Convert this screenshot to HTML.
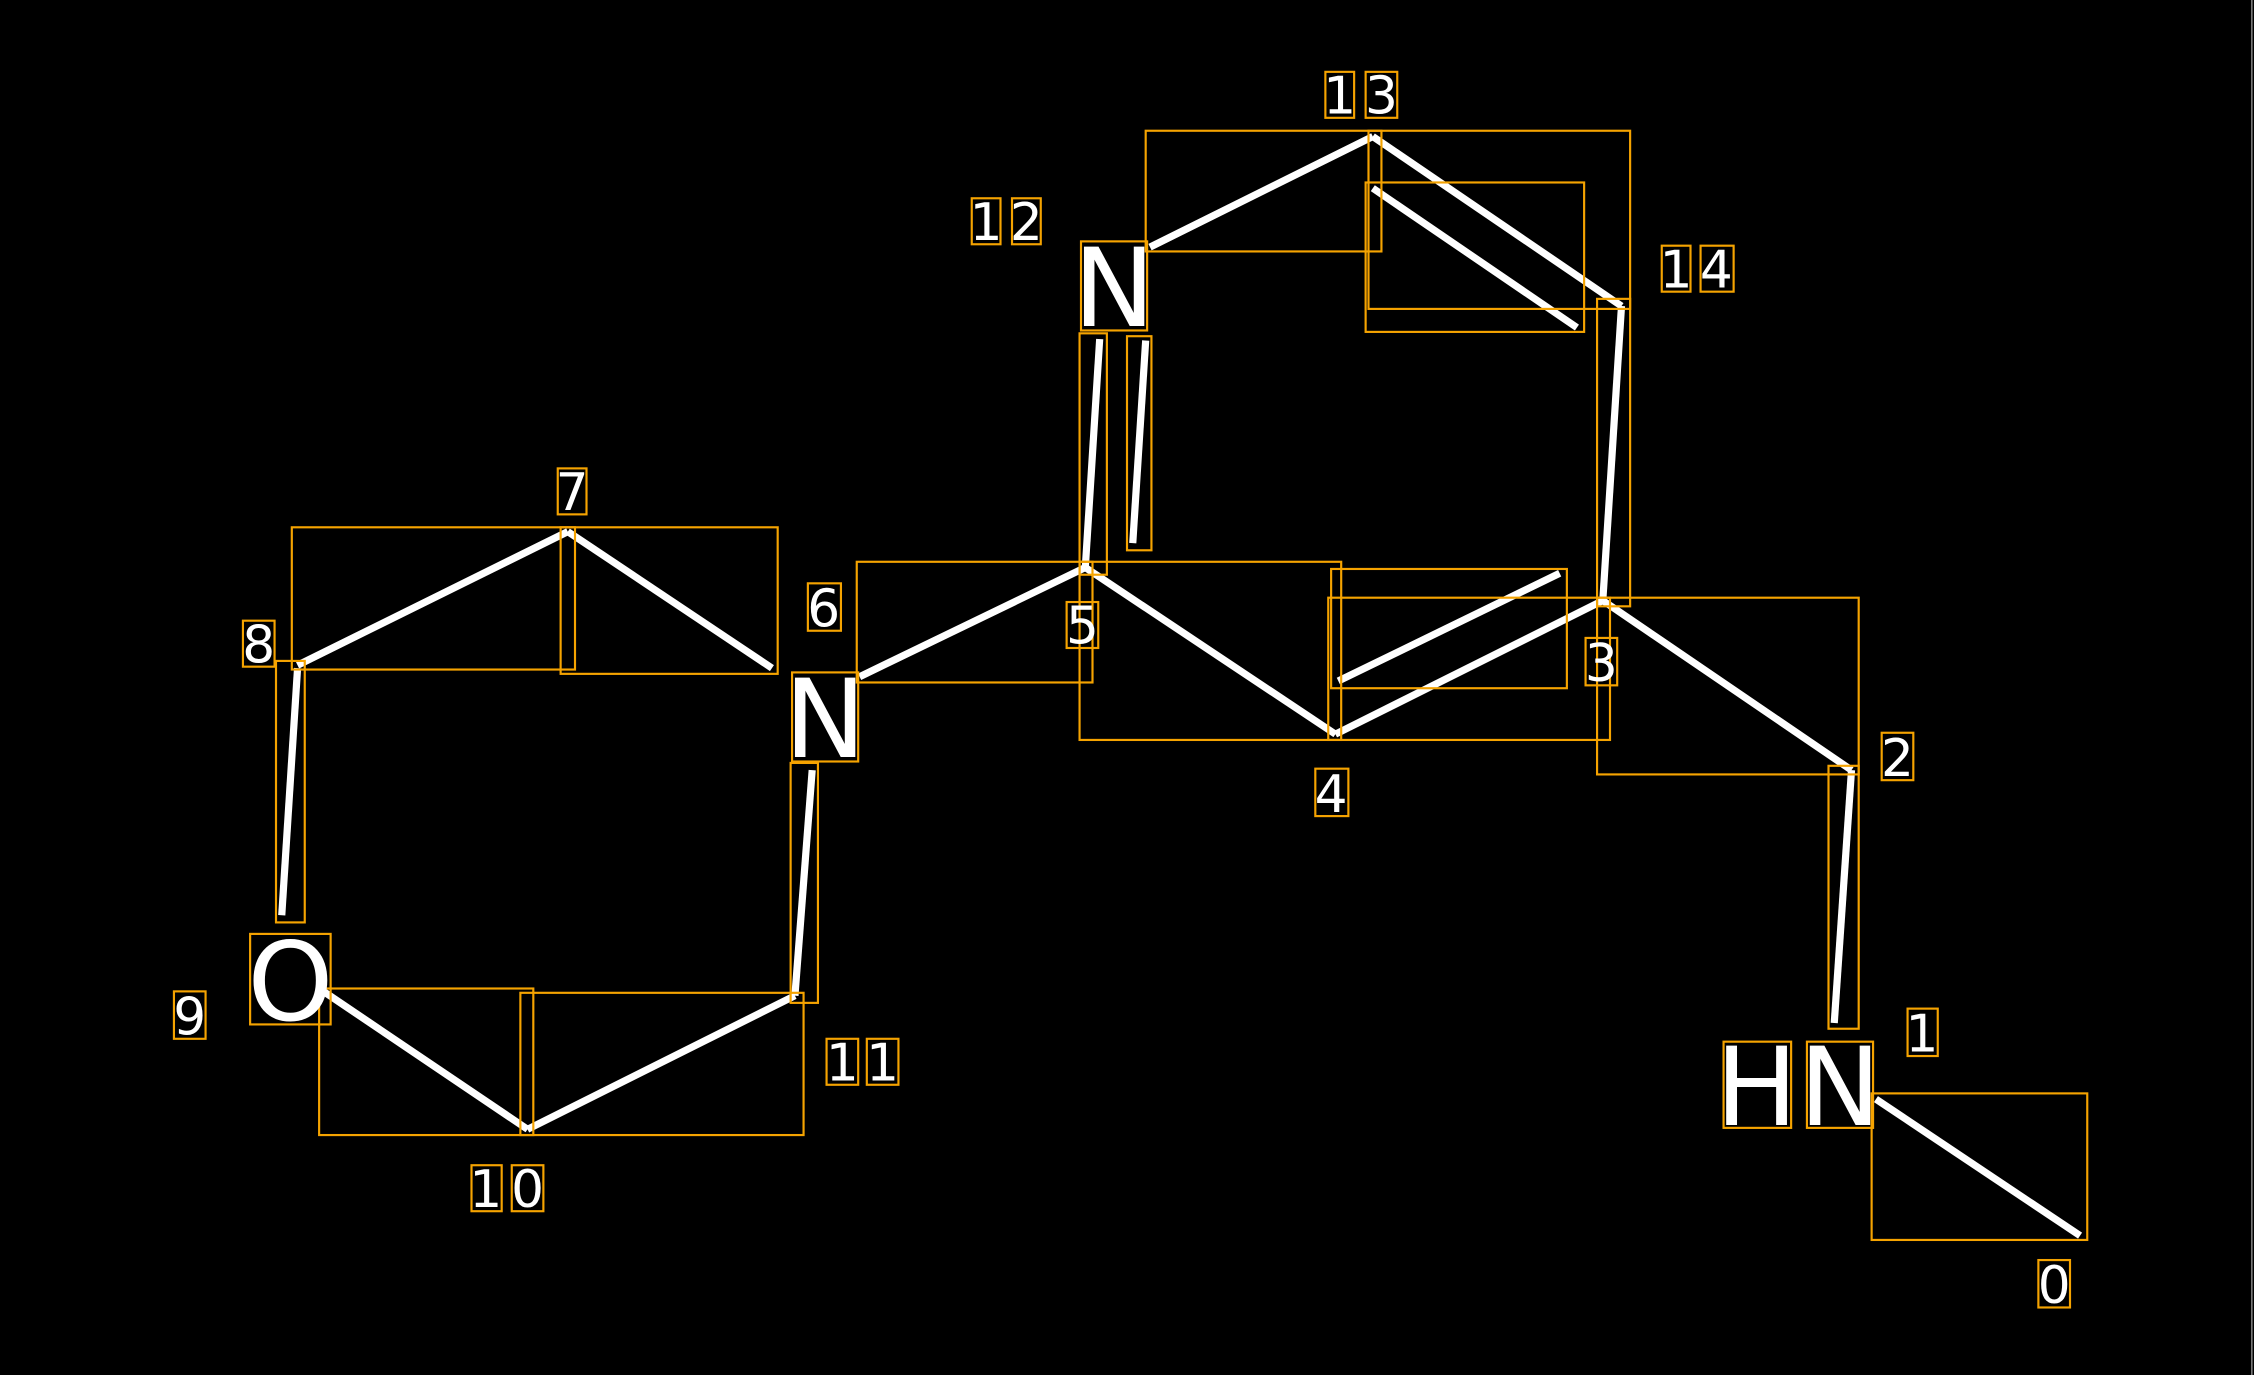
<!DOCTYPE html>
<html><head><meta charset="utf-8"><style>
html,body{margin:0;padding:0;background:#000;}
svg{display:block;}
text{font-family:"DejaVu Sans","Liberation Sans",sans-serif;fill:#fff;text-anchor:middle;}
</style></head><body>
<svg width="2254" height="1375" viewBox="0 0 1568 957" preserveAspectRatio="none" xmlns="http://www.w3.org/2000/svg">
<rect width="1568" height="957" fill="#000"/>
<g stroke="#fff" stroke-width="5" stroke-linecap="butt">
<line x1="395" y1="370" x2="207" y2="463"/>
<line x1="395" y1="370" x2="537" y2="465"/>
<line x1="207" y1="465" x2="196" y2="637"/>
<line x1="225" y1="690" x2="367" y2="786"/>
<line x1="367" y1="786" x2="553" y2="693"/>
<line x1="553" y1="693" x2="565" y2="536"/>
<line x1="598" y1="471" x2="755" y2="395"/>
<line x1="755" y1="395" x2="929" y2="511"/>
<line x1="929" y1="511" x2="1115" y2="418"/>
<line x1="931" y1="474" x2="1085" y2="399"/>
<line x1="1115" y1="418" x2="1128" y2="213"/>
<line x1="1128" y1="213" x2="955" y2="95"/>
<line x1="955" y1="131" x2="1097" y2="228"/>
<line x1="955" y1="95" x2="800" y2="172"/>
<line x1="765" y1="236" x2="755" y2="395"/>
<line x1="797" y1="237" x2="788" y2="378"/>
<line x1="1115" y1="418" x2="1288" y2="536"/>
<line x1="1288" y1="536" x2="1276" y2="712"/>
<line x1="1305" y1="765" x2="1447" y2="860"/>
</g>
<g fill="none" stroke="#f5a300" stroke-width="1.5">
<rect x="922" y="50" width="20" height="32"/><rect x="950" y="50" width="22" height="32"/>
<rect x="797" y="91" width="164" height="84"/>
<rect x="952" y="91" width="182" height="124"/>
<rect x="950" y="127" width="152" height="104"/>
<rect x="676" y="138" width="20" height="32"/><rect x="704" y="138" width="20" height="32"/>
<rect x="752" y="168" width="46" height="62"/>
<rect x="1156" y="171" width="20" height="32"/><rect x="1183" y="171" width="23" height="32"/>
<rect x="751" y="232" width="19" height="168"/>
<rect x="784" y="234" width="17" height="149"/>
<rect x="1111" y="208" width="23" height="214"/>
<rect x="388" y="326" width="20" height="32"/>
<rect x="203" y="367" width="197" height="99"/>
<rect x="390" y="367" width="151" height="102"/>
<rect x="169" y="432" width="22" height="32"/>
<rect x="562" y="406" width="23" height="33"/>
<rect x="596" y="391" width="164" height="84"/>
<rect x="751" y="391" width="182" height="124"/>
<rect x="742" y="419" width="22" height="32"/>
<rect x="926" y="396" width="164" height="83"/>
<rect x="924" y="416" width="196" height="99"/>
<rect x="1111" y="416" width="182" height="123"/>
<rect x="1103" y="444" width="22" height="33"/>
<rect x="551" y="468" width="46" height="62"/>
<rect x="1309" y="510" width="22" height="33"/>
<rect x="915" y="535" width="23" height="33"/>
<rect x="192" y="460" width="20" height="182"/>
<rect x="550" y="531" width="19" height="167"/>
<rect x="1272" y="533" width="21" height="183"/>
<rect x="174" y="650" width="56" height="63"/>
<rect x="121" y="690" width="22" height="33"/>
<rect x="222" y="688" width="149" height="102"/>
<rect x="362" y="691" width="197" height="99"/>
<rect x="575" y="723" width="22" height="32"/><rect x="603" y="723" width="22" height="32"/>
<rect x="1327" y="702" width="21" height="33"/>
<rect x="1199" y="725" width="47" height="60"/><rect x="1257" y="725" width="46" height="60"/>
<rect x="1302" y="761" width="150" height="102"/>
<rect x="328" y="811" width="21" height="32"/><rect x="356" y="811" width="22" height="32"/>
<rect x="1418" y="877" width="22" height="33"/>
</g>
<g font-size="36">
<text x="932" y="79">1</text><text x="961" y="79">3</text>
<text x="686" y="167">1</text><text x="714" y="167">2</text>
<text x="1166" y="200">1</text><text x="1194" y="200">4</text>
<text x="398" y="355">7</text>
<text x="180" y="461">8</text>
<text x="573" y="436">6</text>
<text x="753" y="448">5</text>
<text x="1114" y="474">3</text>
<text x="1320" y="540">2</text>
<text x="926" y="565">4</text>
<text x="132" y="720">9</text>
<text x="586" y="752">1</text><text x="614" y="752">1</text>
<text x="1337" y="732">1</text>
<text x="338" y="840">1</text><text x="367" y="840">0</text>
<text x="1429" y="907">0</text>
</g>
<g font-size="76">
<text x="775" y="227">N</text>
<text x="574" y="527">N</text>
<text x="202" y="710">O</text>
<text x="1222" y="783">H</text>
<text x="1280" y="783">N</text>
</g>
<line x1="1566.5" y1="0" x2="1566.5" y2="957" stroke="#888" stroke-width="1"/>
</svg>
</body></html>
